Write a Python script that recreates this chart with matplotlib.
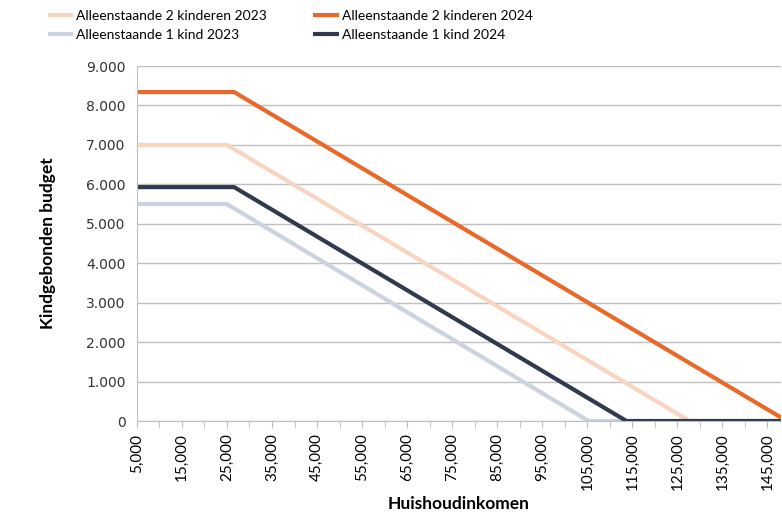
import matplotlib
matplotlib.use("Agg")
import matplotlib.pyplot as plt
from matplotlib.ticker import FuncFormatter, MultipleLocator

# breakpoints (huishoudinkomen -> kindgebonden budget)
ink_2k_2023 = [5000, 25000, 127700, 148000]
bud_2k_2023 = [7000, 7000, 0, 0]
ink_1k_2023 = [5000, 25000, 105300, 148000]
bud_1k_2023 = [5500, 5500, 0, 0]
ink_2k_2024 = [5000, 26600, 148000]
bud_2k_2024 = [8340, 8340, 90]
ink_1k_2024 = [5000, 26600, 113700, 148000]
bud_1k_2024 = [5930, 5930, 0, 0]

x_ticks = list(range(5000, 146000, 10000))
y_ticks = list(range(0, 9001, 1000))


def nl(v):
    return f"{int(v):,}".replace(",", ".") if v else "0"


def nl_x(v):
    return f"{int(v):,}"


fig = plt.figure(figsize=(7.82, 5.13), dpi=100)
ax = fig.add_axes([0.175, 0.1793, 0.8237, 0.692])

l1, = ax.plot(ink_2k_2023, bud_2k_2023, color="#F9D4C0", lw=3, solid_capstyle="butt")
l2, = ax.plot(ink_1k_2023, bud_1k_2023, color="#CBD2E0", lw=3, solid_capstyle="butt")
l3, = ax.plot(ink_2k_2024, bud_2k_2024, color="#E8692A", lw=3, solid_capstyle="butt")
l4, = ax.plot(ink_1k_2024, bud_1k_2024, color="#2F3A4F", lw=3, solid_capstyle="butt")

ax.set_xlim(5000, 148000)
ax.set_ylim(0, 9000)
ax.set_yticks(y_ticks)
ax.yaxis.set_major_formatter(FuncFormatter(lambda v, p: nl(v)))
ax.set_xticks(x_ticks)
ax.set_xticklabels([nl_x(v) for v in x_ticks], rotation=90, family="Lato", fontsize=11)
ax.xaxis.set_minor_locator(MultipleLocator(5000))
for lab in ax.get_yticklabels():
    lab.set_family("DejaVu Sans")
    lab.set_fontsize(10)
    lab.set_color("#333333")

ax.grid(axis="y", color="#BFBFBF", lw=1)
ax.set_axisbelow(True)
for s in ["top", "right"]:
    ax.spines[s].set_visible(False)
ax.spines["left"].set_color("#BFBFBF")
ax.spines["bottom"].set_color("#BFBFBF")
ax.tick_params(axis="y", length=0, pad=8)
ax.tick_params(axis="x", which="both", length=5, color="#BFBFBF", pad=4)

ax.set_xlabel("Huishoudinkomen", family="Lato", fontweight="bold", fontsize=12.5, labelpad=4)
ax.set_ylabel("Kindgebonden budget", family="Lato", fontweight="bold", fontsize=12.5, labelpad=22)

fig.legend([l1, l2, l3, l4],
           ["Alleenstaande 2 kinderen 2023", "Alleenstaande 1 kind 2023",
            "Alleenstaande 2 kinderen 2024", "Alleenstaande 1 kind 2024"],
           ncol=2, loc="upper left", bbox_to_anchor=(0.045, 1.005), frameon=False,
           prop={"family": "Lato", "size": 10}, handlelength=1.85,
           handletextpad=0.2, columnspacing=3.35, labelspacing=0.5)

fig.savefig("out.png", dpi=100)
